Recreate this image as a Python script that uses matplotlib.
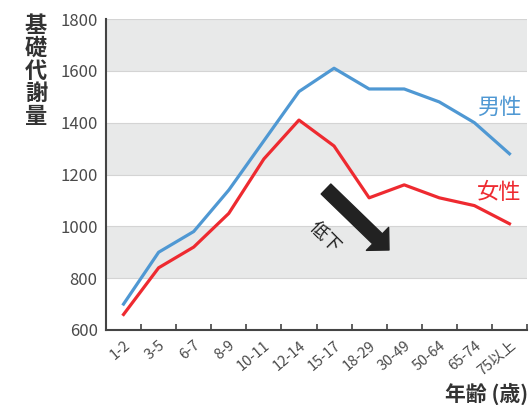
import matplotlib.pyplot as plt
import numpy as np

plt.rcParams['font.family'] = ['Noto Sans CJK JP', 'DejaVu Sans']

ages = ["1-2", "3-5", "6-7", "8-9", "10-11", "12-14", "15-17",
        "18-29", "30-49", "50-64", "65-74", "75以上"]
male = [700, 900, 980, 1140, 1330, 1520, 1610, 1530, 1530, 1480, 1400, 1280]
female = [660, 840, 920, 1050, 1260, 1410, 1310, 1110, 1160, 1110, 1080, 1010]
y_ticks = [600, 800, 1000, 1200, 1400, 1600, 1800]

fig = plt.figure(figsize=(5.31, 4.05), dpi=100)
ax = fig.add_axes([106 / 531, 75 / 405, 421 / 531, 311 / 405])

x = np.arange(len(ages))
ax.set_xlim(-0.5, len(ages) - 0.5)
ax.set_ylim(600, 1800)

# alternating bands
for lo in [800, 1200, 1600]:
    ax.axhspan(lo, lo + 200, color="#e8e9e9", zorder=0, lw=0)
for v in y_ticks[1:]:
    ax.axhline(v, color="#d4d4d4", lw=0.8, zorder=1)

ax.plot(x, male, color="#4f98d3", lw=2.3, zorder=3)
ax.plot(x, female, color="#ee2a30", lw=2.3, zorder=3)

ax.set_yticks(y_ticks)
ax.set_yticklabels([str(v) for v in y_ticks], fontsize=12, color="#4a4a4a")
ax.set_xticks(x)
ax.set_xticklabels(ages, rotation=40, ha="right", rotation_mode="anchor",
                   fontsize=10.5, color="#4a4a4a")
ax.set_xticks(np.arange(len(ages) + 1) - 0.5, minor=True)
ax.tick_params(axis="x", which="major", length=0, pad=6)
ax.tick_params(axis="x", which="minor", direction="in", length=4,
               color="#444444", width=1.2)
ax.tick_params(axis="y", length=0, pad=6)

for s in ["top", "right"]:
    ax.spines[s].set_visible(False)
for s in ["left", "bottom"]:
    ax.spines[s].set_color("#444444")
    ax.spines[s].set_linewidth(1.5)

ax.text(11.35, 1460, "男性", color="#4f98d3", fontsize=16, ha="right", va="center")
ax.text(11.35, 1130, "女性", color="#ee2a30", fontsize=16, ha="right", va="center")

# 低下 arrow
ax.annotate("", xy=(389, 155), xytext=(326, 216),
            xycoords="figure pixels", textcoords="figure pixels",
            arrowprops=dict(arrowstyle="simple,head_width=2.3,head_length=1.15,tail_width=1.0",
                            fc="#222222", ec="#222222", mutation_scale=10,
                            shrinkA=0, shrinkB=0), zorder=4)
fig.text(325 / 531, 1 - 237 / 405, "低下", rotation=-45, fontsize=13, color="#222222",
         ha="center", va="center")

fig.text(36 / 531, 1 - 71 / 405, "基\n礎\n代\n謝\n量", fontsize=16, fontweight="bold",
         color="#333333", ha="center", va="center", linespacing=0.98)
fig.text(528 / 531, 1 - 394 / 405, "年齢 (歳)", fontsize=15, fontweight="bold",
         color="#333333", ha="right", va="center")

fig.savefig("out.png", dpi=100)
